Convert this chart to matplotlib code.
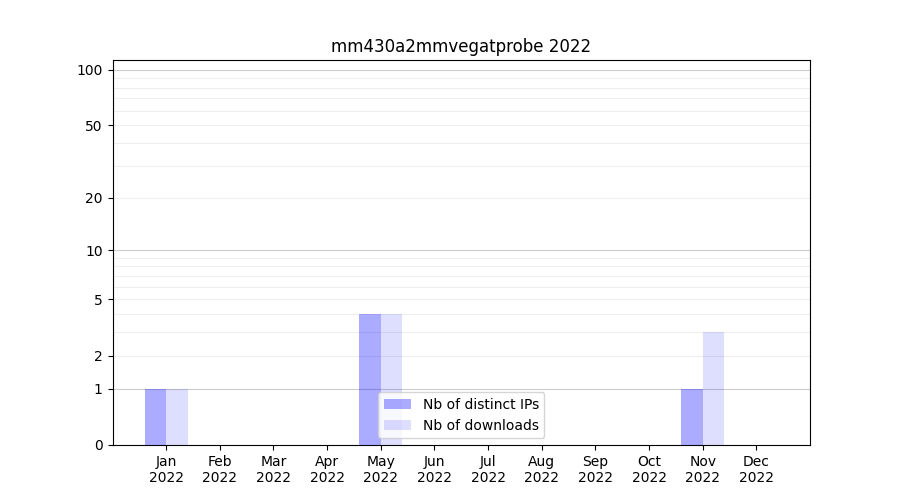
import numpy as np
import matplotlib
matplotlib.use("Agg")
import matplotlib.pyplot as plt

title = "mm430a2mmvegatprobe 2022"
months = ["Jan", "Feb", "Mar", "Apr", "May", "Jun",
          "Jul", "Aug", "Sep", "Oct", "Nov", "Dec"]
year = "2022"
distinct_ips = [1, 0, 0, 0, 4, 0, 0, 0, 0, 0, 1, 0]
downloads = [1, 0, 0, 0, 4, 0, 0, 0, 0, 0, 3, 0]
major_ticks = [0, 1, 2, 5, 10, 20, 50, 100]
grid_major = [1, 10, 100]
grid_minor = [2, 3, 4, 5, 6, 7, 8, 9, 20, 30, 40, 50, 60, 70, 80, 90]


def fwd(v):
    return np.log10(1 + np.asarray(v, dtype=float))


def inv(v):
    return 10 ** np.asarray(v, dtype=float) - 1


fig, ax = plt.subplots(figsize=(9, 5), dpi=100)
ax.set_yscale("function", functions=(fwd, inv))

x = np.arange(len(months))
width = 0.4
ax.bar(x - width / 2, distinct_ips, width, color="blue", alpha=0.33,
       label="Nb of distinct IPs")
ax.bar(x + width / 2, downloads, width, color="blue", alpha=0.13,
       label="Nb of downloads")

for g in grid_minor:
    ax.axhline(g, color="#eeeeee", linewidth=0.8, zorder=0)
for g in grid_major:
    ax.axhline(g, color="#cccccc", linewidth=0.8, zorder=0)

ax.set_yticks(major_ticks)
ax.set_yticklabels([str(t) for t in major_ticks])
ax.yaxis.set_minor_locator(matplotlib.ticker.NullLocator())
ax.set_ylim(0, 113)

ax.set_xticks(x)
ax.set_xticklabels([m + "\n" + year for m in months])
ax.set_xlim(-1, 12)

ax.set_title(title)
ax.legend(loc="lower center")

fig.savefig("out.png")
